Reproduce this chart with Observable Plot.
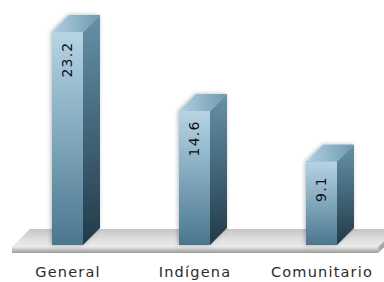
<!DOCTYPE html>
<html><head><meta charset="utf-8">
<script src="https://cdn.jsdelivr.net/npm/d3@7"></script>
<script src="https://cdn.jsdelivr.net/npm/@observablehq/plot@0.6"></script>
<style>
body{margin:0;background:#fff}
svg{display:block}
svg text{letter-spacing:1.2px}
</style>
</head><body><div id="chart"></div>
<script>
const categories = ["General", "Indígena", "Comunitario"];
const values = [23.2, 14.6, 9.1];
const valueLabels = ["23.2", "14.6", "9.1"];
const data = categories.map((c, i) => ({cat: c, value: values[i], label: valueLabels[i]}));

const DEPTH = 17;

function floorMark(index, scales) {
  const x = scales.x, y = scales.y;
  const [r0, r1] = x.range();
  const y0 = y(0);
  const g = d3.create("svg:g");
  const defs = g.append("defs");
  const lg = (id, stops, x2 = 0, y2 = 1) => {
    const l = defs.append("linearGradient").attr("id", id).attr("x1", 0).attr("y1", 0).attr("x2", x2).attr("y2", y2);
    stops.forEach(([o, c]) => l.append("stop").attr("offset", o).attr("stop-color", c));
  };
  lg("gFront", [[0, "#b6d4e4"], [0.5, "#80a7bc"], [1, "#4a768e"]]);
  lg("gSide", [[0, "#6592aa"], [1, "#213a48"]]);
  lg("gTop", [[0, "#b2d0e0"], [1, "#6f98ae"]], 1, 0);
  lg("gFloorTop", [[0, "#c6c6c6"], [0.6, "#e0e0e0"], [1, "#ebebeb"]]);
  lg("gFloorEdge", [[0, "#e6e6e6"], [0.4, "#c6c6c6"], [1, "#9a9a9a"]]);
  const f = defs.append("filter").attr("id", "shadow").attr("x", "-30%").attr("y", "-10%").attr("width", "160%").attr("height", "120%");
  f.append("feDropShadow").attr("dx", -1).attr("dy", 0).attr("stdDeviation", 2).attr("flood-color", "#000").attr("flood-opacity", 0.28);
  const fl = r0 + 9.25, fr = r1 - 7, ft = y0 + 2, th = 6, D = 18;
  g.append("path")
    .attr("d", `M${fl},${ft}L${fl + D},${ft - D}L${fr + D},${ft - D}L${fr},${ft}Z`)
    .attr("fill", "url(#gFloorTop)");
  g.append("path")
    .attr("d", `M${fl},${ft}L${fr},${ft}L${fr},${ft + th}L${fl},${ft + th}Z`)
    .attr("fill", "url(#gFloorEdge)");
  g.append("path")
    .attr("d", `M${fr},${ft}L${fr + D},${ft - D}L${fr + D},${ft - D + th}L${fr},${ft + th}Z`)
    .attr("fill", "#a8a8a8");
  return g.node();
}

function boxMark(index, scales) {
  const x = scales.x, y = scales.y;
  const bw = x.bandwidth();
  const g = d3.create("svg:g").attr("filter", "url(#shadow)");
  const y0 = y(0), D = DEPTH;
  data.forEach(d => {
    const x0 = x(d.cat), x1 = x0 + bw, t = y(d.value);
    g.append("path")
      .attr("d", `M${x1},${t}L${x1 + D},${t - D}L${x1 + D},${y0 - D}L${x1},${y0}Z`)
      .attr("fill", "url(#gSide)");
    g.append("path")
      .attr("d", `M${x0},${t}L${x0 + D},${t - D}L${x1 + D},${t - D}L${x1},${t}Z`)
      .attr("fill", "url(#gTop)");
    g.append("rect")
      .attr("x", x0).attr("y", t).attr("width", bw).attr("height", y0 - t)
      .attr("fill", "#6c96ac");
  });
  return g.node();
}

const chart = Plot.plot({
  width: 384,
  height: 282,
  marginTop: 0,
  marginBottom: 37,
  marginLeft: 0,
  marginRight: 0,
  style: {fontFamily: "DejaVu Sans, Verdana, sans-serif", fontSize: "14.5px", color: "#2a2a2a", background: "#fff"},
  x: {domain: categories, range: [2.75, 385.25], paddingInner: 0.757, paddingOuter: 0.3784, align: 0.5, tickSize: 0, tickPadding: 21, label: null},
  y: {domain: [0, 26.69], axis: null},
  marks: [
    floorMark,
    boxMark,
    Plot.barY(data, {x: "cat", y: "value", fill: "url(#gFront)"}),
    Plot.text(data, {x: "cat", y: "value", text: "label", rotate: -90, dy: 27, fontSize: 14, fill: "#111"})
  ]
});
document.getElementById("chart").appendChild(chart);
</script>
</body></html>
